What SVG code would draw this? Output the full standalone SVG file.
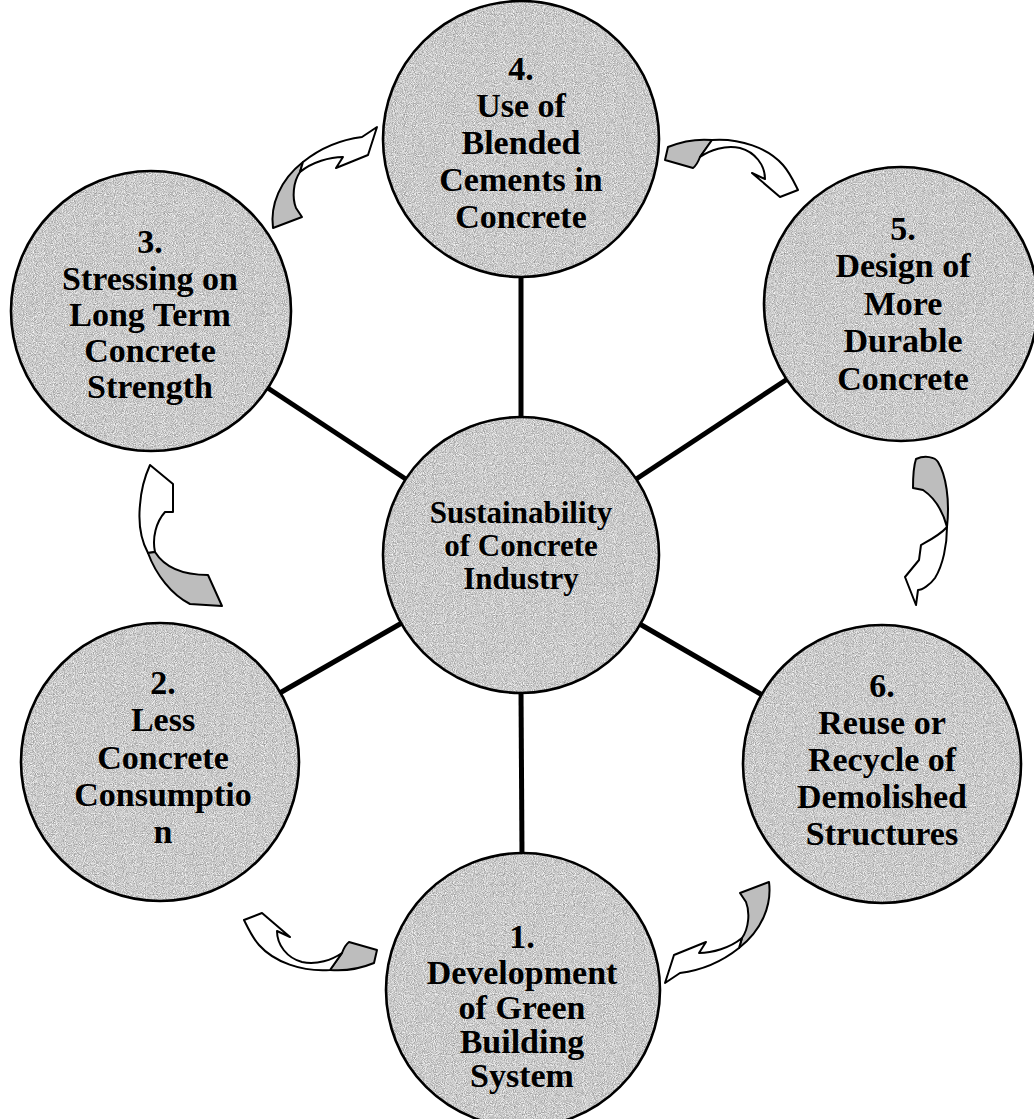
<svg xmlns="http://www.w3.org/2000/svg" width="1034" height="1119" viewBox="0 0 1034 1119">
<style>
.fillc{fill:#c8c8c8}
.ring{fill:none;stroke:#000;stroke-width:2.6}
.t{font-family:"Liberation Serif","Times New Roman",serif;font-weight:bold;font-size:34px;fill:#000;text-anchor:middle}
.tc{font-size:31px}
.spoke{stroke:#000;stroke-width:5;fill:none}
.ash{fill:#bdbdbd;stroke:#000;stroke-width:2;stroke-linejoin:round}
.aw{fill:#fff;stroke:#000;stroke-width:2;stroke-linejoin:round}
</style>
<defs>
  <filter id="grain" x="0" y="0" width="1" height="1" color-interpolation-filters="sRGB">
    <feTurbulence type="fractalNoise" baseFrequency="1.1" numOctaves="1" seed="4" result="n"/>
    <feColorMatrix in="n" type="matrix" values="0.7 0 0 0 0.44  0.7 0 0 0 0.44  0.7 0 0 0 0.44  0 0 0 0 1" result="g"/>
    <feComposite in="g" in2="SourceGraphic" operator="in"/>
  </filter>
</defs>
<rect width="1034" height="1119" fill="#fff"/>
<g id="connectors">
  <g id="spokes">
    <line class="spoke" x1="521" y1="420" x2="521" y2="275"/>
    <line class="spoke" x1="521" y1="690" x2="522" y2="856"/>
    <line class="spoke" x1="408" y1="480.5" x2="265.5" y2="386.5"/>
    <line class="spoke" x1="634" y1="480.5" x2="789" y2="378"/>
    <line class="spoke" x1="403.5" y1="622" x2="278" y2="694"/>
    <line class="spoke" x1="638" y1="623" x2="764" y2="696"/>
  </g>
  <g id="arrow-3-4">
    <path class="ash" d="M273,228 C270,205 280,180 303,162 L300,172 C293,182 292,198 296,208 L302,217 Z"/>
    <path class="aw" d="M303,162 C318,150 338,140 362,137 L377,127 L368,155 L336,168 L343,157 C330,157 312,162 300,172 Z"/>
  </g>
  <g id="arrow-4-5">
    <path class="ash" d="M668,147 Q690,138 712,140 L700,157 Q697,165 693,168 L665,160 Z"/>
    <path class="aw" d="M712,140 C740,138 768,148 783,165 C790,173 794,182 798,190 L780,197 L752,173 L765,179 C765,165 755,152 740,148 C725,145 710,150 700,157 Z"/>
  </g>
  <g id="arrow-5-6">
    <path class="ash" d="M916,459 C925,455 935,457 938,462 C946,475 950,500 947,527 C943,512 935,498 923,490 L913,488 C913,478 913,468 916,459 Z"/>
    <path class="aw" d="M947,527 C947,545 943,565 935,578 C930,585 922,590 918,590 L916,605 L905,577 L919,560 L921,545 C930,540 940,535 947,527 Z"/>
  </g>
  <g id="arrow-6-1" transform="rotate(180 521 555)">
    <path class="ash" d="M273,228 C270,205 280,180 303,162 L300,172 C293,182 292,198 296,208 L302,217 Z"/>
    <path class="aw" d="M303,162 C318,150 338,140 362,137 L377,127 L368,155 L336,168 L343,157 C330,157 312,162 300,172 Z"/>
  </g>
  <g id="arrow-1-2" transform="rotate(180 521 555)">
    <path class="ash" d="M668,147 Q690,138 712,140 L700,157 Q697,165 693,168 L665,160 Z"/>
    <path class="aw" d="M712,140 C740,138 768,148 783,165 C790,173 794,182 798,190 L780,197 L752,173 L765,179 C765,165 755,152 740,148 C725,145 710,150 700,157 Z"/>
  </g>
  <g id="arrow-2-3">
    <path class="aw" d="M150,465 L173,484 L173,512 L165,512 C156,522 152,538 155,552 L148,553 C141,540 138,525 140,505 C141,490 145,476 150,465 Z"/>
    <path class="ash" d="M148,553 L155,552 C165,568 185,575 208,575 L222,606 L190,604 C172,595 156,575 148,553 Z"/>
  </g>
</g>
<g id="node-center">
  <circle class="fillc" cx="521" cy="555" r="138" filter="url(#grain)"/>
  <circle class="ring" cx="521" cy="555" r="138"/>
  <text class="t tc" x="521" y="523">Sustainability</text>
  <text class="t tc" x="521" y="556">of Concrete</text>
  <text class="t tc" x="521" y="589">Industry</text>
</g>
<g id="node-4">
  <circle class="fillc" cx="521" cy="139" r="138" filter="url(#grain)"/>
  <circle class="ring" cx="521" cy="139" r="138"/>
  <text class="t" x="521" y="80">4.</text>
  <text class="t" x="521" y="117">Use of</text>
  <text class="t" x="521" y="154">Blended</text>
  <text class="t" x="521" y="191">Cements in</text>
  <text class="t" x="521" y="228">Concrete</text>
</g>
<g id="node-3">
  <circle class="fillc" cx="151" cy="311" r="140" filter="url(#grain)"/>
  <circle class="ring" cx="151" cy="311" r="140"/>
  <text class="t" x="150" y="253">3.</text>
  <text class="t" x="150" y="290">Stressing on</text>
  <text class="t" x="150" y="326">Long Term</text>
  <text class="t" x="150" y="362">Concrete</text>
  <text class="t" x="150" y="398">Strength</text>
</g>
<g id="node-5">
  <circle class="fillc" cx="901" cy="304" r="137" filter="url(#grain)"/>
  <circle class="ring" cx="901" cy="304" r="137"/>
  <text class="t" x="903" y="240">5.</text>
  <text class="t" x="903" y="277">Design of</text>
  <text class="t" x="903" y="315">More</text>
  <text class="t" x="903" y="352">Durable</text>
  <text class="t" x="903" y="390">Concrete</text>
</g>
<g id="node-2">
  <circle class="fillc" cx="160" cy="762" r="139" filter="url(#grain)"/>
  <circle class="ring" cx="160" cy="762" r="139"/>
  <text class="t" x="163" y="694">2.</text>
  <text class="t" x="163" y="731">Less</text>
  <text class="t" x="163" y="769">Concrete</text>
  <text class="t" x="163" y="806">Consumptio</text>
  <text class="t" x="163" y="843">n</text>
</g>
<g id="node-6">
  <circle class="fillc" cx="882" cy="764" r="139" filter="url(#grain)"/>
  <circle class="ring" cx="882" cy="764" r="139"/>
  <text class="t" x="882" y="697">6.</text>
  <text class="t" x="882" y="734">Reuse or</text>
  <text class="t" x="882" y="771">Recycle of</text>
  <text class="t" x="882" y="808">Demolished</text>
  <text class="t" x="882" y="845">Structures</text>
</g>
<g id="node-1">
  <circle class="fillc" cx="523" cy="990" r="137" filter="url(#grain)"/>
  <circle class="ring" cx="523" cy="990" r="137"/>
  <text class="t" x="522" y="948">1.</text>
  <text class="t" x="522" y="984">Development</text>
  <text class="t" x="522" y="1019">of Green</text>
  <text class="t" x="522" y="1053">Building</text>
  <text class="t" x="522" y="1087">System</text>
</g>
</svg>
